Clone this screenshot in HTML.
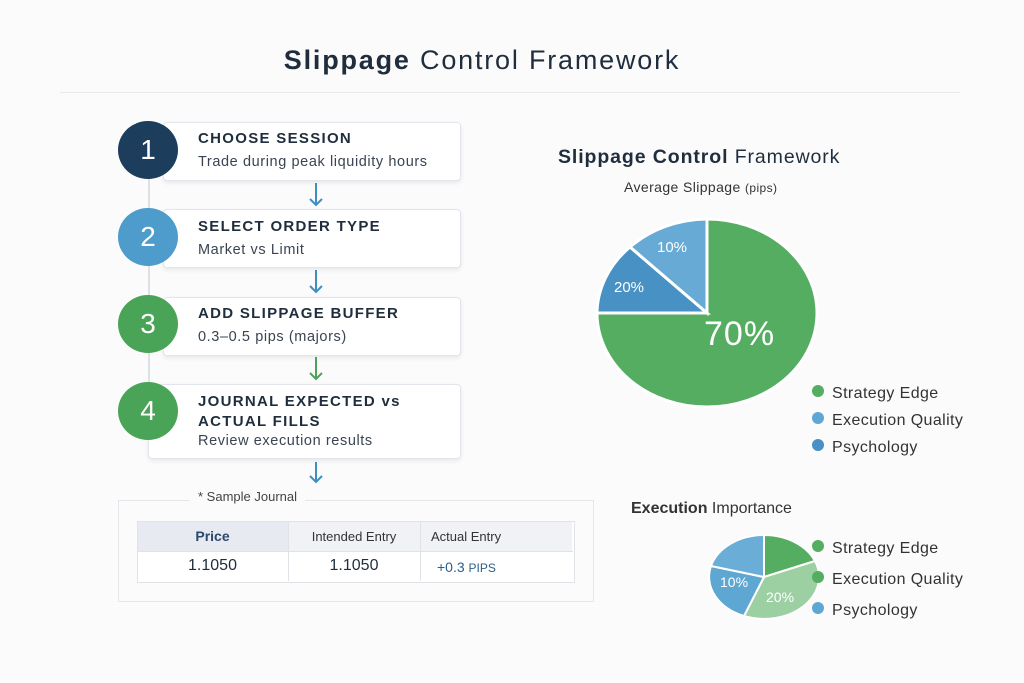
<!DOCTYPE html>
<html><head><style>
body{margin:0;width:1024px;height:683px;background:#fbfbfc;font-family:"Liberation Sans","DejaVu Sans",sans-serif;color:#1f2d3d;position:relative;overflow:hidden}
.a{position:absolute;white-space:nowrap}
.card{position:absolute;background:#fff;border:1px solid #e2e6ec;border-radius:4px;box-shadow:0 2px 5px rgba(0,0,0,.08)}
.circ{position:absolute;width:60px;height:58px;border-radius:50%;color:#fff;font-size:28px;text-align:center;line-height:58px}
.h{font-size:15px;font-weight:bold;letter-spacing:1.3px;color:#1f2d3d}
.s{font-size:14.5px;color:#3a4452;letter-spacing:.6px}
</style></head><body>
<div class="a" style="left:0;width:964px;top:45px;text-align:center;font-size:27px;letter-spacing:1.8px;color:#1f2d3d"><b>Slippage</b> Control Framework</div>
<div class="a" style="left:60px;top:92px;width:900px;height:1px;background:#e6e8ec"></div>
<div class="a" style="left:148px;top:150px;width:2px;height:270px;background:#dde1e6"></div>

<div class="card" style="left:163px;top:122px;width:296px;height:57px"></div>
<div class="card" style="left:163px;top:209px;width:296px;height:57px"></div>
<div class="card" style="left:163px;top:297px;width:296px;height:57px"></div>
<div class="card" style="left:148px;top:384px;width:311px;height:73px"></div>
<div class="circ" style="left:118px;top:121px;background:#1d3d5c">1</div>
<div class="circ" style="left:118px;top:208px;background:#4e9ccb">2</div>
<div class="circ" style="left:118px;top:295px;background:#49a457">3</div>
<div class="circ" style="left:118px;top:382px;background:#49a457">4</div>
<div class="a h" style="left:198px;top:130px">CHOOSE SESSION</div>
<div class="a s" style="left:198px;top:154px">Trade during peak liquidity hours</div>
<div class="a h" style="left:198px;top:218px">SELECT ORDER TYPE</div>
<div class="a s" style="left:198px;top:242px">Market vs Limit</div>
<div class="a h" style="left:198px;top:305px">ADD SLIPPAGE BUFFER</div>
<div class="a s" style="left:198px;top:329px">0.3–0.5 pips (majors)</div>
<div class="a h" style="left:198px;top:392px;line-height:20px">JOURNAL EXPECTED vs<br>ACTUAL FILLS</div>
<div class="a s" style="left:198px;top:433px">Review execution results</div>
<svg class="a" style="left:0;top:0" width="1024" height="683">
<g stroke-width="2" fill="none">
<path d="M316 183v22M310 199l6 6 6-6" stroke="#3d8fc2"/>
<path d="M316 270v22M310 286l6 6 6-6" stroke="#3d8fc2"/>
<path d="M316 357v22M310 373l6 6 6-6" stroke="#49a457"/>
<path d="M316 462v20M310 476l6 6 6-6" stroke="#3d8fc2"/>
</g>
<path d="M707 219 A110 94 0 1 1 597 313 L707 313Z" fill="#55ad61" stroke="#fff" stroke-width="3"/>
<path d="M597 313 A110 94 0 0 1 630 247 L707 313Z" fill="#4891c4" stroke="#fff" stroke-width="3"/>
<path d="M630 247 A110 94 0 0 1 707 219 L707 313Z" fill="#67aad5" stroke="#fff" stroke-width="3"/>
<path d="M764 535 A55 42 0 0 1 815 561 L764 577Z" fill="#55ad61" stroke="#fff" stroke-width="2"/>
<path d="M815 561 A55 42 0 0 1 744 616 L764 577Z" fill="#9ccfa2" stroke="#fff" stroke-width="2"/>
<path d="M744 616 A55 42 0 0 1 711 566 L764 577Z" fill="#5ea7d3" stroke="#fff" stroke-width="2"/>
<path d="M711 566 A55 42 0 0 1 764 535 L764 577Z" fill="#6aaed8" stroke="#fff" stroke-width="2"/>
<g fill="#fff" font-family="Liberation Sans,sans-serif">
<text x="704" y="345" font-size="34" letter-spacing="1">70%</text>
<text x="614" y="292" font-size="15">20%</text>
<text x="657" y="252" font-size="15">10%</text>
<text x="720" y="587" font-size="14">10%</text>
<text x="766" y="602" font-size="14">20%</text>
</g>
<g>
<circle cx="818" cy="391" r="6" fill="#55ad61"/><circle cx="818" cy="418" r="6" fill="#5ea7d3"/><circle cx="818" cy="445" r="6" fill="#4891c4"/>
<circle cx="818" cy="546" r="6" fill="#55ad61"/><circle cx="818" cy="577" r="6" fill="#55ad61"/><circle cx="818" cy="608" r="6" fill="#5ea7d3"/>
</g>
</svg>
<div class="a" style="left:558px;top:146px;font-size:19.5px;letter-spacing:.9px"><b>Slippage Control</b> Framework</div>
<div class="a" style="left:624px;top:179px;font-size:14px;color:#333;letter-spacing:.4px">Average Slippage <span style="font-size:12px">(pips)</span></div>
<div class="a" style="left:832px;top:380px;font-size:16px;color:#333;line-height:27px;letter-spacing:.4px">Strategy Edge<br>Execution Quality<br>Psychology</div>
<div class="a" style="left:631px;top:500px;font-size:16px;color:#333"><b>Execution</b> Importance</div>
<div class="a" style="left:832px;top:533px;font-size:16px;color:#333;line-height:31px;letter-spacing:.4px">Strategy Edge<br>Execution Quality<br>Psychology</div>

<div class="a" style="left:118px;top:500px;width:474px;height:100px;border:1px solid #e3e6ea;background:#fbfbfc"></div>
<div class="a" style="left:190px;top:489px;padding:0 8px;background:#fbfbfc;font-size:13px;color:#444">* Sample Journal</div>
<div class="a" style="left:137px;top:521px;width:436px;height:60px;border:1px solid #dfe3e8;background:#fff"></div>
<div class="a" style="left:138px;top:522px;width:150px;height:29px;background:#e7ebf1"></div>
<div class="a" style="left:289px;top:522px;width:283px;height:29px;background:#f0f2f5"></div>
<div class="a" style="left:137px;top:551px;width:436px;height:1px;background:#dfe3e8"></div>
<div class="a" style="left:288px;top:521px;width:1px;height:60px;background:#dfe3e8"></div>
<div class="a" style="left:420px;top:521px;width:1px;height:60px;background:#dfe3e8"></div>
<div class="a" style="left:137px;width:151px;top:528px;text-align:center;font-size:14px;font-weight:bold;color:#2b4a6b">Price</div>
<div class="a" style="left:288px;width:132px;top:529px;text-align:center;font-size:13px;color:#333">Intended Entry</div>
<div class="a" style="left:431px;top:529px;font-size:13px;color:#333">Actual Entry</div>
<div class="a" style="left:137px;width:151px;top:557px;text-align:center;font-size:16px">1.1050</div>
<div class="a" style="left:288px;width:132px;top:557px;text-align:center;font-size:16px">1.1050</div>
<div class="a" style="left:437px;top:559px;font-size:14px;color:#2b5f8c">+0.3 <span style="font-size:12px">PIPS</span></div>
</body></html>
